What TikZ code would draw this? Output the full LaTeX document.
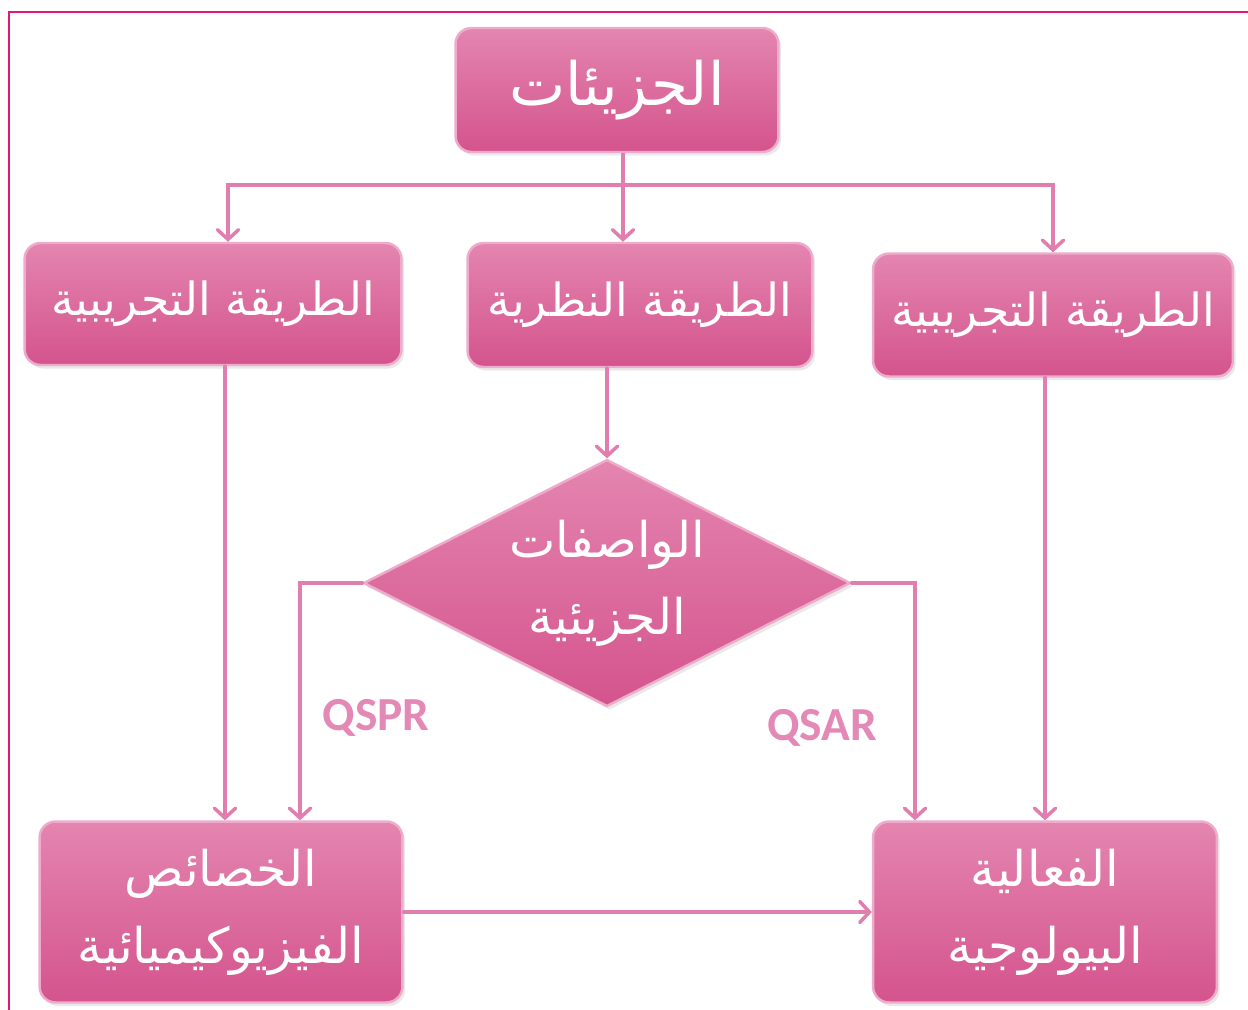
\documentclass[tikz,border=0pt]{standalone}
\usepackage{fontspec}
\setsansfont{Carlito}
\newfontfamily\arabicfont[Script=Arabic]{DejaVu Sans}
\TeXXeTstate=1
\usetikzlibrary{shapes.geometric, arrows.meta, shadows}

\definecolor{framepink}{RGB}{228,22,125}
\definecolor{linkpink}{RGB}{226,125,176}
\definecolor{qpink}{RGB}{228,136,182}
\definecolor{boxtop}{RGB}{228,133,176}
\definecolor{boxbottom}{RGB}{212,84,141}
\definecolor{boxedge}{RGB}{238,172,204}

\tikzset{
  softshadow/.style={drop shadow={shadow xshift=1.5pt, shadow yshift=-2pt, opacity=0.25, fill=gray!70}},
  box/.style={rectangle, rounded corners=0.32cm, top color=boxtop, bottom color=boxbottom,
    draw=boxedge, line width=1.4pt, text=white, align=center, softshadow},
  decision/.style={diamond, inner sep=0pt, top color=boxtop, bottom color=boxbottom,
    draw=boxedge, line width=1.4pt, softshadow},
  bigtext/.style={font=\arabicfont\fontsize{34}{42}\selectfont},
  midtext/.style={font=\arabicfont\fontsize{26}{32}\selectfont},
  twotext/.style={font=\arabicfont\fontsize{28}{44}\selectfont},
  qtext/.style={font=\sffamily\bfseries\fontsize{27}{30}\selectfont, text=qpink}
}

\begin{document}
\begin{tikzpicture}[x=0.02cm, y=-0.02cm,
  link/.style={-{Straight Barb[length=5.5pt,width=12pt,line cap=round]}, linkpink, line width=2pt, line cap=round},
  plain/.style={linkpink, line width=2pt}]

  \useasboundingbox (0,0) rectangle (1248,1010);

  % Frame
  \draw[framepink, line width=1.6pt] (9,1010) -- (9,12) -- (1248,12);

  % Boxes
  \node[box, bigtext, minimum width=6.46cm, minimum height=2.48cm] (mol) at (617,90) {\beginR الجزيئات\endR};
  \node[box, midtext, minimum width=7.54cm, minimum height=2.44cm] (expL) at (213,304) {\beginR الطريقة التجريبية\endR};
  \node[box, midtext, minimum width=6.9cm, minimum height=2.48cm] (theo) at (640,305) {\beginR الطريقة النظرية\endR};
  \node[box, midtext, minimum width=7.2cm, minimum height=2.46cm] (expR) at (1053,315) {\beginR الطريقة التجريبية\endR};
  \node[decision, minimum width=9.74cm, minimum height=4.94cm,
    label={[name=desctext, twotext, text=white, align=center]center:\beginR الواصفات\endR\\\beginR الجزيئية\endR}] (desc) at (607,583) {};
  \node[box, twotext, minimum width=7.26cm, minimum height=3.62cm] (phys) at (221,912) {\beginR الخصائص\endR\\\beginR الفيزيوكيميائية\endR};
  \node[box, twotext, minimum width=6.88cm, minimum height=3.62cm] (bio) at (1045,912) {\beginR الفعالية\endR\\\beginR البيولوجية\endR};

  % Labels
  \node[qtext] (qspr) at (376,718) {QSPR};
  \node[qtext] (qsar) at (822,728) {QSAR};

  % Links
  \coordinate (split) at (623,185);
  \draw[plain] (mol.south -| split) -- (split);
  \draw[link] (split) -| ([xshift=0.3cm]expL.north);
  \draw[link] (split) -| (expR.north);
  \draw[link] (split) -- (split |- theo.north);
  \draw[link] (desc.north |- theo.south) -- (desc.north);
  \draw[link] ([xshift=0.24cm]expL.south) -- ([xshift=0.24cm]expL.south |- phys.north);
  \draw[link] (desc.west) -| ([xshift=1.58cm]phys.north);
  \draw[link] (desc.east) -| ([xshift=-2.6cm]bio.north);
  \draw[link] (expR.south -| bio.north) -- (bio.north);
  \draw[link] (phys.east) -- (bio.west);

\end{tikzpicture}
\end{document}
